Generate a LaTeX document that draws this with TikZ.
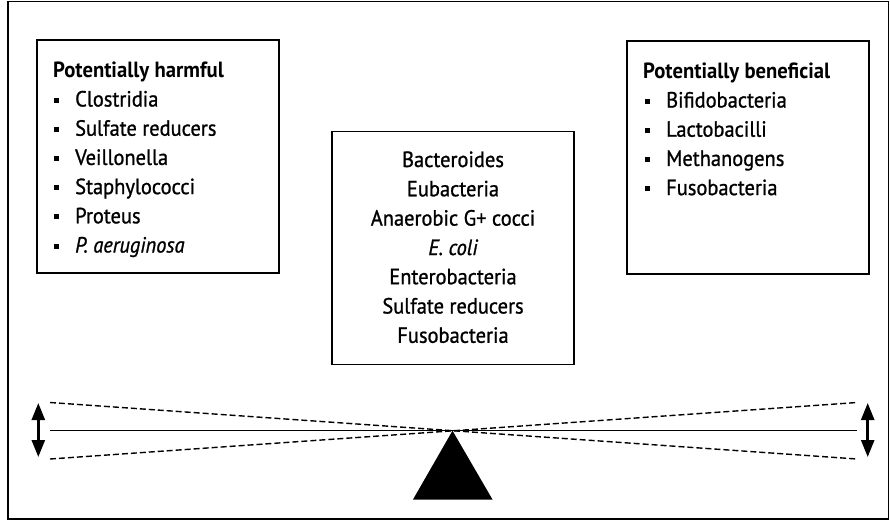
\documentclass[tikz,border=0pt]{standalone}
\usepackage{fontspec}
\setmainfont[FakeStretch=0.93, FakeBold=1.0]{PT Sans}
\newfontfamily\titlefont[FakeStretch=0.94]{PT Sans}
\usetikzlibrary{arrows.meta}
\newcommand{\bul}{\makebox[21pt][l]{\rule[4pt]{5pt}{5pt}}}
\begin{document}
\begin{tikzpicture}[x=1pt,y=-1pt,
  box/.style={draw, line width=1.8pt, inner sep=0pt, minimum width=242pt, minimum height=233pt},
  txt/.style={font=\fontsize{22}{29}\selectfont, inner sep=0pt, anchor=base west},
  ttl/.style={font=\fontsize{22}{29}\titlefont\bfseries, inner sep=0pt, anchor=base west},
  ctxt/.style={font=\fontsize{22}{29}\selectfont, inner sep=0pt, anchor=base},
  dsh/.style={line width=1.4pt, dash pattern=on 6pt off 3pt},
  dbl/.style={line width=2.5pt, {Triangle[length=17pt,width=13pt]}-{Triangle[length=17pt,width=13pt]}}]
\useasboundingbox (0,0) rectangle (890,520);
\draw[line width=1.2pt] (8,1.5) rectangle (888.5,519);
% boxes
\node[box] (harm) at (158,156.5) {};
\node[box] (mid) at (453,248) {};
\node[box] (ben) at (748,157.5) {};
% left text
\node[ttl] (h0) at (53,77.5) {Potentially harmful};
\node[txt] (h1) at (54,106.5) {\bul Clostridia};
\node[txt] (h2) at (54,135.7) {\bul Sulfate reducers};
\node[txt] (h3) at (54,164.9) {\bul Veillonella};
\node[txt] (h4) at (54,194.1) {\bul Staphylococci};
\node[txt] (h5) at (54,223.3) {\bul Proteus};
\node[txt] (h6) at (54,252.5) {\bul \itshape P. aeruginosa};
% middle text
\node[ctxt] (m1) at (453,167) {Bacteroides};
\node[ctxt] (m2) at (453,196.3) {Eubacteria};
\node[ctxt] (m3) at (453,225.6) {Anaerobic G+ cocci};
\node[ctxt] (m4) at (453,255) {\itshape E. coli};
\node[ctxt] (m5) at (453,284.2) {Enterobacteria};
\node[ctxt] (m6) at (453,313.5) {Sulfate reducers};
\node[ctxt] (m7) at (453,342.8) {Fusobacteria};
% right text
\node[ttl] (b0) at (643,78.5) {Potentially beneficial};
\node[txt] (b1) at (645,107.5) {\bul Bifidobacteria};
\node[txt] (b2) at (645,136.7) {\bul Lactobacilli};
\node[txt] (b3) at (645,165.9) {\bul Methanogens};
\node[txt] (b4) at (645,195.1) {\bul Fusobacteria};
% seesaw
\coordinate (pivot) at (452.5,430.7);
\coordinate (L) at (50,430.7);
\coordinate (R) at (857,430.7);
\coordinate (LT) at (50,402.5);
\coordinate (LB) at (50,459);
\coordinate (RT) at (857,402.5);
\coordinate (RB) at (857,459);
\draw[line width=1.5pt] (L) -- (R);
\draw[dsh] (LT) -- (RB);
\draw[dsh] (LB) -- (RT);
\fill (pivot) -- (413,499.5) -- (492.5,499.5) -- cycle;
\coordinate (la) at (38.3,403);
\coordinate (lb) at (38.3,457);
\coordinate (ra) at (867.7,403);
\coordinate (rb) at (867.7,457);
\draw[dbl] (la) -- (lb);
\draw[dbl] (ra) -- (rb);
\end{tikzpicture}
\end{document}
